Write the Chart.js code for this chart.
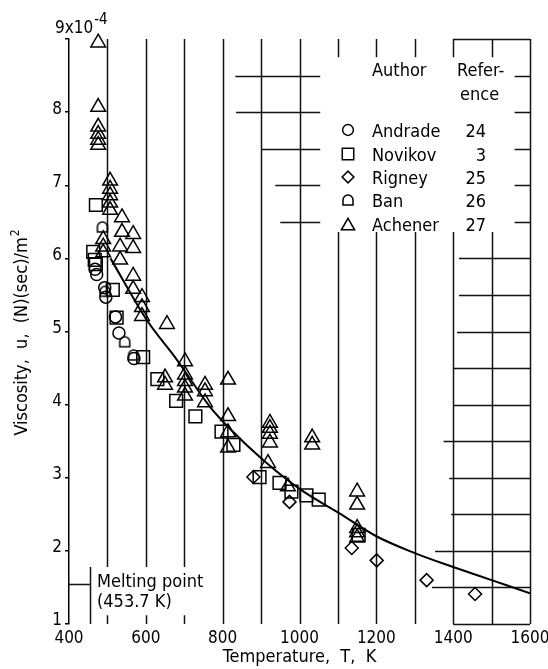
<!DOCTYPE html>
<html>
<head>
<meta charset="utf-8">
<script src="https://cdn.jsdelivr.net/npm/chart.js@4.4.0/dist/chart.umd.min.js"></script>
<style>
html, body { margin: 0; padding: 0; background: #fff; }
#chartBox { width: 548px; height: 669px; }
</style>
</head>
<body>
<div id="chartBox"><canvas id="viscChart" width="548" height="669"></canvas></div>
<script>
// ===== Data: temperature (K) and viscosity (x1e-4 N sec/m^2) =====
const andradeT = [468, 472, 493, 496, 521, 530, 569];
const andradeV = [5.85, 5.78, 5.60, 5.47, 5.20, 4.98, 4.63];

const novikovT = [470, 463, 467, 470, 514, 524, 593, 630, 679, 729, 797, 828, 896, 948, 979, 1018, 1050, 1154];
const novikovV = [6.73, 6.09, 5.98, 5.92, 5.57, 5.19, 4.65, 4.35, 4.05, 3.84, 3.63, 3.45, 3.01, 2.93, 2.81, 2.76, 2.70, 2.22];

const rigneyT = [880, 974, 1136, 1201, 1331, 1457];
const rigneyV = [3.01, 2.67, 2.04, 1.87, 1.60, 1.41];

const banT = [487, 494, 545, 568];
const banV = [6.43, 5.55, 4.86, 4.68];

const achenerT = [476, 476, 476, 476, 476, 476,
                  507, 507, 507, 507, 507,
                  538, 538, 533, 533, 567, 567, 567, 567,
                  489, 489, 489, 590, 590, 590, 655, 650, 650,
                  702, 702, 702, 702, 702, 754, 754, 754,
                  814, 814, 814, 814, 923, 923, 923, 923, 918, 970,
                  1033, 1033, 1150, 1150, 1150, 1150, 1150];
const achenerV = [8.95, 8.07, 7.80, 7.70, 7.62, 7.55,
                  7.06, 6.95, 6.86, 6.76, 6.66,
                  6.56, 6.36, 6.16, 5.98, 6.33, 6.14, 5.76, 5.58,
                  6.26, 6.16, 6.08, 5.47, 5.33, 5.21, 5.10, 4.37, 4.27,
                  4.59, 4.41, 4.32, 4.23, 4.12, 4.27, 4.18, 4.03,
                  4.34, 3.84, 3.62, 3.41, 3.75, 3.68, 3.60, 3.48, 3.20, 2.88,
                  3.55, 3.45, 2.81, 2.63, 2.31, 2.25, 2.18];

// faired curve through the data
const curveT = [508, 602, 680, 767, 819, 906, 1005, 1102, 1200, 1300, 1400, 1500, 1600];
const curveV = [6.00, 5.16, 4.62, 3.97, 3.67, 3.24, 2.83, 2.52, 2.20, 1.97, 1.78, 1.60, 1.42];

const legendRows = [
    ['Andrade', '24'],
    ['Novikov', '3'],
    ['Rigney', '25'],
    ['Ban', '26'],
    ['Achener', '27']
];

const TEXT_FONT = '"DejaVu Sans Condensed", "DejaVu Sans", sans-serif';
const NUM_FONT = '"DejaVu Sans Condensed", "DejaVu Sans", sans-serif';
const NUM_SIZE = 17;

// ===== Helpers =====
const pts = (xs, ys) => xs.map((x, i) => ({x: x, y: ys[i]}));

function makeDome(size){
    const c = document.createElement('canvas');
    c.width = size; c.height = size;
    const g = c.getContext('2d');
    g.strokeStyle = '#000';
    g.lineWidth = 1.5;
    const r = size / 2 - 2;
    const cx = size / 2;
    g.beginPath();
    g.moveTo(cx - r, size - 2);
    g.lineTo(cx + r, size - 2);
    g.lineTo(cx + r, cx);
    g.arc(cx, cx, r, 0, Math.PI, true);
    g.closePath();
    g.stroke();
    return c;
}
const domeMark = makeDome(14);

const markers = [
    {pointStyle: 'circle', radius: 6},
    {pointStyle: 'rect', radius: 9},
    {pointStyle: 'rectRot', radius: 6.5},
    {pointStyle: domeMark, radius: 7},
    {pointStyle: 'triangle', radius: 8.5}
];

function scatterSet(label, xs, ys, m){
    return {
        label: label,
        data: pts(xs, ys),
        pointStyle: m.pointStyle,
        pointRadius: m.radius,
        borderColor: '#000',
        backgroundColor: 'rgba(0,0,0,0)',
        borderWidth: 1.5,
        showLine: false,
        clip: false
    };
}

// ===== Partial grid of the original figure (style, not data) =====
// vertical pieces: [T, from, to]
const vGrid = [
    [500, 1.78, 9], [500, 1, 1.12], [600, 1.78, 9], [600, 1, 1.12], [700, 1.78, 9], [700, 1, 1.12],
    [800, 1, 9], [900, 1, 9], [1000, 1, 9],
    [1100, 1, 6.36], [1100, 8.75, 9], [1200, 1, 6.36], [1200, 8.75, 9],
    [1300, 1, 6.36], [1300, 8.75, 9], [1400, 1, 6.36], [1400, 8.75, 9],
    [1500, 1, 6.36], [1500, 8.75, 9], [1600, 1, 9],
    [453.7, 1, 1.78]
];
// horizontal pieces: [value, fromT, toT]
const hGrid = [
    [9, 1400, 1600], [1, 1400, 1600], [1.55, 400, 453.7],
    [1.5, 1345, 1600], [2, 1353, 1600], [2.5, 1395, 1600], [3, 1390, 1600], [3.5, 1375, 1600],
    [4, 1400, 1600], [4.5, 1400, 1600], [5, 1410, 1600], [5.5, 1415, 1600], [6, 1415, 1600],
    [6.5, 1560, 1600], [7, 1560, 1600], [7.5, 1560, 1600], [8, 1560, 1600], [8.5, 1560, 1600],
    [8.5, 833, 1054], [8, 835, 1054], [7.5, 903, 1054], [7, 937, 1054], [6.5, 950, 1054]
];

const gridPlugin = {
    id: 'partialGrid',
    beforeDatasetsDraw(chart){
        const {ctx, scales: {x, y}} = chart;
        ctx.save();
        ctx.strokeStyle = '#111';
        ctx.lineWidth = 1.5;
        ctx.beginPath();
        vGrid.forEach(([t, a, b]) => {
            const px = Math.round(x.getPixelForValue(t)) + 0.5;
            ctx.moveTo(px, y.getPixelForValue(a));
            ctx.lineTo(px, y.getPixelForValue(b));
        });
        hGrid.forEach(([v, a, b]) => {
            const py = Math.round(y.getPixelForValue(v)) + 0.5;
            ctx.moveTo(x.getPixelForValue(a), py);
            ctx.lineTo(x.getPixelForValue(b), py);
        });
        ctx.stroke();
        ctx.restore();
    },
    afterDraw(chart){
        const {ctx, scales: {x, y}} = chart;
        ctx.save();
        ctx.fillStyle = '#000';
        ctx.textBaseline = 'alphabetic';

        // top y label 9x10^-4
        ctx.textAlign = 'left';
        ctx.font = NUM_SIZE + 'px ' + NUM_FONT;
        const topY = y.getPixelForValue(9);
        ctx.fillText('9x10', 55, topY - 6);
        const w9 = ctx.measureText('9x10').width;
        ctx.font = '15px ' + NUM_FONT;
        ctx.fillText('-4', 55 + w9 + 1, topY - 15);

        // y axis title
        ctx.save();
        ctx.translate(27, 333);
        ctx.rotate(-Math.PI / 2);
        ctx.font = '18px ' + TEXT_FONT;
        const main = 'Viscosity,  u,  (N)(sec)/m';
        const mw = ctx.measureText(main).width;
        ctx.font = '12px ' + TEXT_FONT;
        const sw = ctx.measureText('2').width;
        const start = -(mw + sw) / 2;
        ctx.font = '18px ' + TEXT_FONT;
        ctx.fillText(main, start, 0);
        ctx.font = '12px ' + TEXT_FONT;
        ctx.fillText('2', start + mw + 1, -8);
        ctx.restore();

        // melting point note
        ctx.font = '18px ' + TEXT_FONT;
        ctx.fillText('Melting point', 97, 587);
        ctx.fillText('(453.7 K)', 97, 607);

        // legend table
        ctx.fillText('Author', 372, 76);
        ctx.fillText('Refer-', 457, 76);
        ctx.fillText('ence', 460, 100);
        const rowY = [130, 154, 177, 200, 224];
        legendRows.forEach((row, i) => {
            const cy = rowY[i];
            ctx.textAlign = 'left';
            ctx.fillText(row[0], 372, cy + 7);
            ctx.textAlign = 'right';
            ctx.fillText(row[1], 486, cy + 7);
            ctx.save();
            ctx.strokeStyle = '#000';
            ctx.fillStyle = 'rgba(0,0,0,0)';
            ctx.lineWidth = 1.5;
            const m = markers[i];
            Chart.helpers.drawPoint(ctx, {pointStyle: m.pointStyle, radius: m.radius * 0.9, rotation: 0, borderWidth: 1.5}, 348, cy + (m.pointStyle === 'triangle' ? 2 : 0));
            ctx.restore();
        });
        ctx.restore();
    }
};

// ===== Chart =====
const ctx = document.getElementById('viscChart').getContext('2d');
const chart = new Chart(ctx, {
    type: 'scatter',
    data: {
        datasets: [
            {
                label: 'Fit',
                data: pts(curveT, curveV),
                showLine: true,
                borderColor: '#000',
                borderWidth: 2,
                pointRadius: 0,
                cubicInterpolationMode: 'monotone',
                fill: false
            },
            scatterSet('Andrade', andradeT, andradeV, markers[0]),
            scatterSet('Novikov', novikovT, novikovV, markers[1]),
            scatterSet('Rigney', rigneyT, rigneyV, markers[2]),
            scatterSet('Ban', banT, banV, markers[3]),
            scatterSet('Achener', achenerT, achenerV, markers[4])
        ]
    },
    options: {
        responsive: false,
        devicePixelRatio: 1,
        animation: false,
        layout: {padding: {top: 39, right: 18, left: 0, bottom: 0}},
        plugins: {legend: {display: false}, tooltip: {enabled: false}},
        scales: {
            x: {
                type: 'linear',
                min: 400, max: 1600,
                afterFit: s => { s.height = 45; s.paddingLeft = 0; s.paddingRight = 0; },
                grid: {display: false, drawTicks: false},
                border: {display: false},
                ticks: {
                    stepSize: 100, autoSkip: false, maxRotation: 0, padding: 4,
                    color: '#000',
                    font: {family: NUM_FONT, size: NUM_SIZE},
                    callback: v => (v % 200 === 0 ? String(v) : '')
                },
                title: {
                    display: true, text: 'Temperature,  T,  K', color: '#000',
                    font: {family: TEXT_FONT, size: 18},
                    padding: {top: 0, bottom: 1}
                }
            },
            y: {
                type: 'linear',
                min: 1, max: 9,
                afterFit: s => { s.width = 69; s.paddingTop = 0; s.paddingBottom = 0; },
                grid: {drawOnChartArea: false, drawTicks: true, tickLength: 4, color: '#000', lineWidth: 1.5},
                border: {display: true, color: '#000', width: 1.5},
                ticks: {
                    stepSize: 1, padding: 3, color: '#000', labelOffset: -3,
                    font: {family: NUM_FONT, size: NUM_SIZE},
                    callback: v => (v === 9 ? '' : String(v))
                }
            }
        }
    },
    plugins: [gridPlugin]
});
</script>
</body>
</html>
